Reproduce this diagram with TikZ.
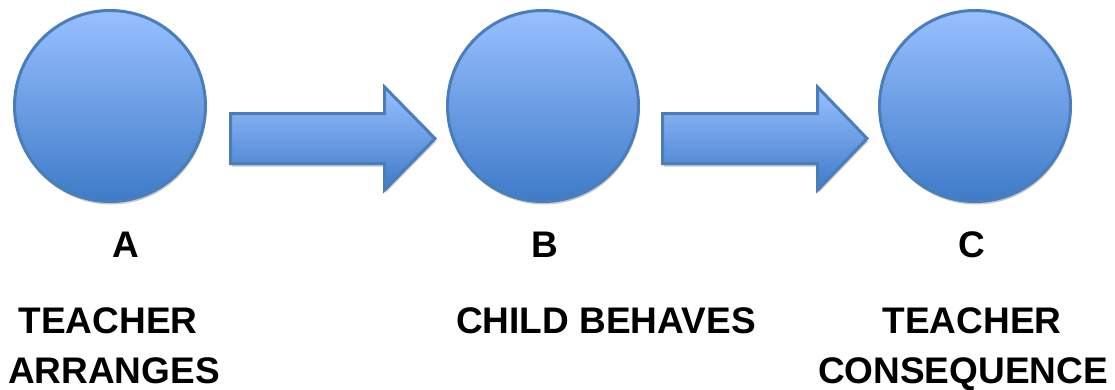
\documentclass[tikz,border=0pt]{standalone}
\usepackage{fontspec}
\setmainfont{Liberation Sans}
\usepackage{tikz}
\usetikzlibrary{shadows}

\definecolor{ballline}{RGB}{74,126,187}
\definecolor{balltop}{RGB}{153,192,255}
\definecolor{ballbottom}{RGB}{62,123,200}

\tikzset{
    ball/.style={circle, draw=ballline, line width=3pt, minimum size=191pt, inner sep=0pt,
        top color=balltop, bottom color=ballbottom,
        drop shadow={shadow xshift=1pt, shadow yshift=-3pt, fill=black!22, opacity=1}},
    blockarrow/.style={draw=ballline, line width=3pt, line join=miter,
        top color=balltop, bottom color=ballbottom,
        drop shadow={shadow xshift=1pt, shadow yshift=-3pt, fill=black!22, opacity=1}},
    label/.style={font=\bfseries\fontsize{37}{40}\selectfont, anchor=base, inner sep=0pt}
}

\begin{document}
\begin{tikzpicture}[x=1pt, y=-1pt]
        \useasboundingbox (0,0) rectangle (1115,389);

        % Circles
        \node [ball] (a) at (110,106) {};
        \node [ball] (b) at (543,106) {};
        \node [ball] (c) at (975,106) {};

        % Arrow from A to B
        \path [blockarrow] (230.5,113.5) -- (384.5,113.5) -- (384.5,87) -- (435,138.5)
            -- (384.5,190) -- (384.5,163.5) -- (230.5,163.5) -- cycle;

        % Arrow from B to C
        \path [blockarrow] (662.5,113.5) -- (817.5,113.5) -- (817.5,87) -- (867,138.5)
            -- (817.5,190) -- (817.5,163.5) -- (662.5,163.5) -- cycle;

        % Letters
        \node [label] (la) at (126,257) {A};
        \node [label] (lb) at (545,257) {B};
        \node [label] (lc) at (972,257) {C};

        % Captions
        \node [label] (ta) at (108,333) {TEACHER};
        \node [label] (aa) at (114,383) {ARRANGES};
        \node [label] (cb) at (606,333) {CHILD BEHAVES};
        \node [label] (tc) at (972,333) {TEACHER};
        \node [label] (cc) at (963,383) {CONSEQUENCE};
    \end{tikzpicture}
\end{document}
